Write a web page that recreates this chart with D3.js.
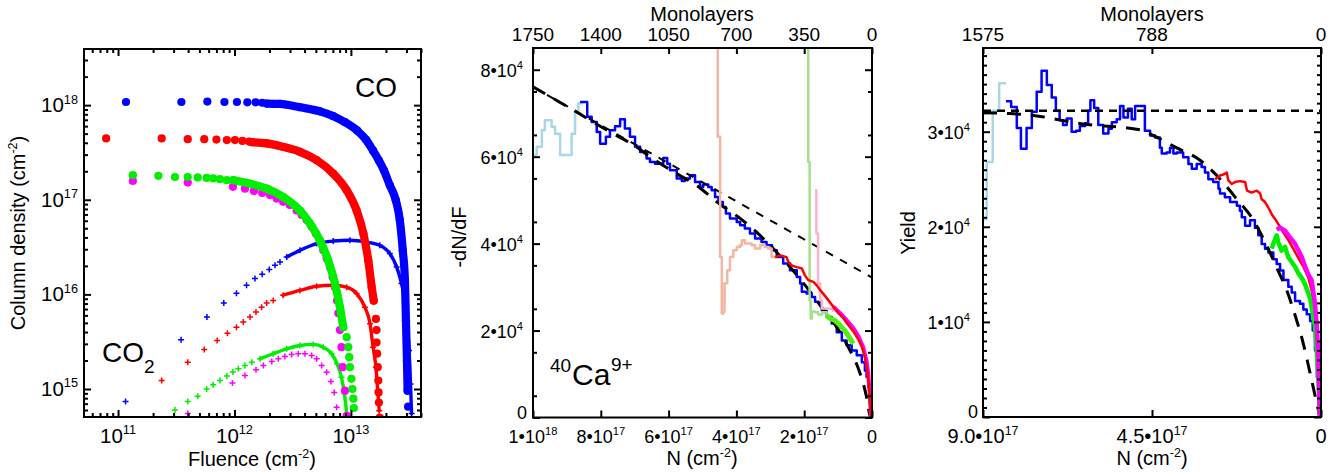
<!DOCTYPE html>
<html>
<head>
<meta charset="utf-8">
<title>CO / CO2 column density and sputtering yield</title>
<script src="https://cdn.jsdelivr.net/npm/d3@7"></script>
<style>
  body { margin: 0; background: #fff; }
  svg text { font-family: "Liberation Sans", Arial, Helvetica, sans-serif; fill: #000; }
</style>
</head>
<body>
<svg id="chart" width="1339" height="472"></svg>
<script>
// ---------------- data ----------------
// panel 1: [fluence cm^-2, column density cm^-2]
// "Dots" = separated samples, "Band" = densely packed samples (drawn as a thick trace)
var coBlueDots = [[1.17e11,1.08e18],[3.5e11,1.08e18],[5.85e11,1.09e18],[8.2e11,1.08e18],[1.05e12,1.08e18],
  [1.29e12,1.07e18],[1.52e12,1.07e18],[1.73e12,1.06e18],[3.10e13,6.5e14]]
var coBlueBand = [[1.89e12,1.04e18],[2.46e12,1.03e18],[3.65e12,9.5e17],[5.42e12,8.6e17],[7.0e12,7.7e17],
  [8.9e12,6.6e17],[1.13e13,5.4e17],[1.35e13,4.3e17],[1.55e13,3.3e17],[1.74e13,2.6e17],[1.92e13,2.05e17],
  [2.16e13,1.42e17],[2.43e13,9.9e16],[2.63e13,6.1e16],[2.79e13,2.9e16],[2.91e13,1.41e16],[2.97e13,5.3e15],
  [3.03e13,2.0e15],[3.07e13,9.6e14]]
var coRedDots = [[7.9e10,4.45e17],[2.37e11,4.45e17],[3.97e11,4.37e17],[5.5e11,4.37e17],[7.0e11,4.33e17],
  [8.6e11,4.27e17],[1.01e12,4.27e17],[1.17e12,4.19e17],[1.34e12,4.12e17],
  [1.64e13,5.5e15],[1.66e13,4.2e15],[1.66e13,3.1e15],[1.68e13,2.36e15],[1.70e13,1.70e15],[1.72e13,1.23e15],
  [1.73e13,9.2e14],[1.74e13,7.2e14],[1.77e13,5.0e14]]
var coRedBand = [[1.41e12,4.06e17],[1.89e12,3.94e17],[2.62e12,3.62e17],[3.65e12,3.21e17],[5.08e12,2.62e17],
  [7.05e12,1.89e17],[9.2e12,1.26e17],[1.12e13,7.7e16],[1.28e13,4.4e16],[1.41e13,2.29e16],[1.51e13,1.19e16],
  [1.57e13,8.6e15]]
var coGreenDots = [[1.34e11,1.82e17],[2.22e11,1.79e17],[3.08e11,1.74e17],[3.97e11,1.74e17],[4.83e11,1.72e17],
  [5.77e11,1.70e17],[6.57e11,1.68e17],[7.5e11,1.65e17],[8.6e11,1.61e17],
  [9.2e12,3.53e15],[9.5e12,2.77e15],[9.67e12,2.17e15],[9.8e12,1.70e15],[1.01e13,1.28e15],[1.03e13,1.0e15],
  [1.05e13,7.9e14],[1.06e13,6.3e14]]
var coGreenBand = [[9.8e11,1.61e17],[1.36e12,1.48e17],[1.89e12,1.31e17],[2.62e12,1.07e17],[3.65e12,7.7e16],
  [4.45e12,5.6e16],[5.42e12,3.7e16],[6.38e12,2.29e16],[7.3e12,1.30e16],[8.05e12,7.3e15],[8.6e12,4.5e15]]
var coMagentaDots = [[1.34e11,1.58e17],[3.97e11,1.52e17],[9.7e11,1.37e17],[1.23e12,1.31e17],[1.47e12,1.24e17],
  [1.73e12,1.18e17],[2.02e12,1.12e17],[2.30e12,1.03e17],[2.62e12,9.5e16],[2.99e12,8.8e16],[3.42e12,7.7e16],
  [3.78e12,6.9e16],[4.17e12,6.1e16],[4.6e12,5.2e16],[5.0e12,4.4e16],[5.42e12,3.66e16],[5.79e12,2.92e16],
  [6.19e12,2.39e16],[6.6e12,1.95e16],[6.97e12,1.52e16],[7.3e12,1.19e16],[7.6e12,8.6e15],[7.8e12,6.3e15],
  [8.05e12,4.2e15],[8.3e12,2.77e15],[8.5e12,1.70e15],[8.9e12,9.6e14],[9.2e12,5.2e14]]

var co2BlueDots = [[1.16e11,7.4e14],[3.48e11,3.32e15],[5.8e11,5.75e15],[8.1e11,8.1e15],[1.04e12,1.03e16],
  [1.27e12,1.25e16],[1.50e12,1.47e16],[1.73e12,1.63e16],[1.99e12,1.83e16],[2.23e12,2.03e16],[2.46e12,2.20e16]]
var co2BlueBand = [[2.81e12,2.48e16],[3.65e12,2.92e16],[5.08e12,3.44e16],[7.05e12,3.66e16],[9.8e12,3.73e16],
  [1.36e13,3.57e16],[1.77e13,3.30e16],[2.16e13,2.70e16],[2.47e13,1.95e16],[2.72e13,1.30e16],[2.91e13,8.6e15],
  [3.04e13,5.3e15],[3.16e13,2.56e15],[3.25e13,1.13e15],[3.32e13,5.5e14]]
var co2RedDots = [[2.37e11,1.23e15],[3.97e11,1.92e15],[5.5e11,2.62e15],[7.1e11,3.26e15],[8.7e11,3.89e15],
  [1.04e12,4.5e15],[1.19e12,5.1e15],[1.36e12,5.75e15],[1.53e12,6.5e15],[1.71e12,7.3e15],[1.89e12,8.1e15],
  [2.15e12,8.6e15]]
var co2RedBand = [[2.62e12,9.8e15],[3.65e12,1.10e16],[5.08e12,1.22e16],[7.05e12,1.25e16],[9.2e12,1.19e16],
  [1.12e13,1.02e16],[1.32e13,7.3e15],[1.46e13,4.9e15],[1.55e13,2.77e15],[1.64e13,1.70e15],[1.70e13,9.6e14],
  [1.75e13,5.9e14]]
var co2GreenDots = [[3.08e11,6.0e14],[3.97e11,7.4e14],[4.83e11,8.4e14],[5.77e11,1.0e15],[6.57e11,1.11e15],
  [7.5e11,1.23e15],[8.6e11,1.37e15],[9.7e11,1.51e15],[1.08e12,1.64e15],[1.23e12,1.77e15],[1.41e12,1.92e15]]
var co2GreenBand = [[1.66e12,2.09e15],[2.15e12,2.36e15],[2.81e12,2.66e15],[3.65e12,2.88e15],[4.75e12,2.96e15],
  [5.79e12,2.77e15],[6.83e12,2.36e15],[7.6e12,1.85e15],[8.3e12,1.33e15],[8.8e12,8.9e14],[9.2e12,5.5e14]]
var co2MagentaDots = [[3.97e11,5.5e14],[9.6e11,1.16e15],[1.23e12,1.39e15],[1.53e12,1.60e15],[1.77e12,1.77e15],
  [2.09e12,1.95e15],[2.38e12,2.09e15],[2.71e12,2.21e15],[3.10e12,2.32e15],[3.53e12,2.36e15],[4.03e12,2.36e15],
  [4.6e12,2.26e15],[5.08e12,2.09e15],[5.61e12,1.77e15],[6.19e12,1.50e15],[6.73e12,1.20e15],[7.19e12,9.2e14],
  [7.54e12,6.4e14]]

// panels 2 and 3: [N in 1e17 cm^-2, value in 1e4]
var N_UNIT = 1e17, Y_UNIT = 1e4

var dndfLightBlue = [[10.0,6.04],[9.89,6.23],[9.74,6.61],[9.65,6.84],[9.45,6.69],[9.35,6.53],[9.20,6.04],
  [8.86,6.53],[8.76,7.03],[8.66,7.23],[8.53,7.23]]
var dndfBlue = [[8.61,7.26],[8.40,6.92],[8.27,6.80],[8.12,6.57],[8.02,6.30],[7.85,6.46],[7.73,6.61],[7.58,6.70],
  [7.43,6.86],[7.29,6.65],[7.14,6.46],[6.99,6.23],[6.84,6.11],[6.65,5.96],[6.55,5.88],[6.40,5.84],[6.16,5.97],
  [6.04,5.84],[5.96,5.69],[5.76,5.50],[5.61,5.44],[5.52,5.50],[5.37,5.57],[5.22,5.42],[5.07,5.30],[4.98,5.36],
  [4.83,5.30],[4.73,5.23],[4.63,5.07],[4.53,4.96],[4.40,4.84],[4.31,4.69],[4.19,4.58],[3.99,4.50],[3.89,4.42],
  [3.75,4.35],[3.60,4.23],[3.45,4.12],[3.26,4.04],[3.11,3.96],[2.95,3.85],[2.81,3.69],[2.62,3.54],[2.42,3.39],
  [2.22,3.23],[2.12,3.08],[2.07,2.89],[1.93,2.85],[1.78,2.77],[1.68,2.66],[1.48,2.46],[1.34,2.31],[1.19,2.16],
  [1.04,1.96],[0.89,1.77],[0.75,1.66],[0.60,1.54],[0.45,1.43],[0.30,1.27],[0.21,1.08],[0.16,0.93],[0.11,0.70],
  [0.06,0.32],[0.03,0.02],[0,0]]
var dndfSalmon = [[4.59,9.5],[4.55,6.46],[4.48,3.69],[4.43,2.39],[4.39,2.43],[4.35,3.09],[4.27,3.39],[4.19,3.69],
  [4.09,3.85],[3.99,3.92],[3.89,3.96],[3.84,4.08],[3.75,4.00],[3.55,3.96],[3.45,3.89],[3.30,3.96],[3.16,3.92],
  [3.06,3.89],[2.96,3.69],[2.86,3.66]]
var dndfLightGreen = [[1.93,9.5],[1.88,5.88],[1.84,2.70],[1.81,2.28],[1.77,2.44],[1.68,2.42],[1.59,2.37],
  [1.47,2.42],[1.34,2.31]]
var dndfPink = [[1.68,5.23],[1.64,4.23],[1.59,3.08],[1.53,2.70],[1.48,2.51],[1.34,2.50],[1.14,2.43]]
var dndfGreen = [[1.34,2.35],[1.24,2.28],[1.09,2.23],[0.94,2.12],[0.80,2.00],[0.65,1.82],[0.55,1.70]]
var dndfMagenta = [[1.14,2.55],[0.94,2.40],[0.75,2.24],[0.55,2.06],[0.40,1.87],[0.26,1.62],[0.16,1.30],
  [0.11,1.00],[0.06,0.50],[0.03,0]]
var dndfRed = [[2.86,3.69],[2.71,3.73],[2.52,3.69],[2.47,3.58],[2.37,3.50],[2.22,3.46],[2.07,3.43],[1.98,3.27],
  [1.88,3.16],[1.73,3.12],[1.63,3.04],[1.53,2.93],[1.44,2.85],[1.29,2.70],[1.14,2.55],[0.99,2.40],[0.85,2.29],
  [0.70,2.13],[0.55,1.98],[0.40,1.79],[0.30,1.63],[0.21,1.40],[0.14,1.09],[0.09,0.70],[0.06,0.31],[0.03,0]]
var dndfFit = [[10.0,7.61],[8.81,7.07],[7.73,6.57],[7.04,6.27],[6.40,5.92],[5.76,5.61],[5.12,5.31],[4.58,4.96],
  [3.89,4.58],[3.25,4.15],[2.42,3.46],[1.93,3.00],[1.53,2.58],[1.04,2.08],[0.70,1.62],[0.35,1.01],[0.16,0.47],
  [0.06,0.05],[0,0]]
var dndfLinear = [[10.0,7.60],[0,3.22]]

var yieldLightBlue = [[8.99,2.08],[8.90,2.68],[8.74,3.22],[8.57,3.51],[8.39,3.51]]
var yieldBlue = [[8.39,3.32],[8.25,3.26],[8.10,3.04],[7.99,2.82],[7.84,3.04],[7.70,3.21],[7.57,3.42],[7.44,3.64],
  [7.30,3.49],[7.17,3.36],[7.06,3.22],[6.96,3.12],[6.87,3.07],[6.77,3.14],[6.64,3.00],[6.52,3.01],[6.42,3.06],
  [6.28,3.09],[6.20,3.22],[6.14,3.33],[6.04,3.25],[5.93,3.07],[5.80,2.98],[5.66,3.03],[5.57,3.10],[5.44,3.13],
  [5.35,3.27],[5.26,3.15],[5.14,3.24],[5.04,3.13],[4.95,3.27],[4.69,3.01],[4.55,2.96],[4.42,2.94],[4.29,2.83],
  [4.24,2.77],[4.11,2.78],[4.02,2.83],[3.93,2.77],[3.84,2.78],[3.67,2.73],[3.53,2.66],[3.44,2.61],[3.31,2.66],
  [3.18,2.63],[3.09,2.57],[3.00,2.50],[2.87,2.47],[2.73,2.40],[2.69,2.35],[2.56,2.31],[2.42,2.26],[2.24,2.22],
  [2.16,2.17],[2.11,2.10],[2.02,2.01],[1.89,2.07],[1.76,1.99],[1.67,1.91],[1.58,1.82],[1.49,1.77],[1.40,1.73],
  [1.27,1.66],[1.18,1.61],[1.09,1.54],[1.00,1.44],[0.87,1.37],[0.78,1.31],[0.69,1.22],[0.56,1.19],[0.47,1.13],
  [0.38,1.08],[0.29,1.01],[0.22,0.91],[0.16,0.70],[0.11,0.42],[0.07,0.07],[0.03,0],[0,0]]
var yieldRed = [[2.82,2.50],[2.69,2.54],[2.60,2.55],[2.51,2.57],[2.47,2.49],[2.38,2.45],[2.29,2.47],[2.16,2.48],
  [2.02,2.47],[1.97,2.38],[1.85,2.36],[1.71,2.38],[1.62,2.35],[1.58,2.29],[1.49,2.26],[1.40,2.20],[1.31,2.13],
  [1.22,2.08],[1.14,2.03],[1.00,1.94],[0.87,1.86],[0.74,1.77],[0.60,1.67],[0.47,1.58],[0.34,1.47],[0.25,1.33],
  [0.16,1.12],[0.10,0.77],[0.05,0.25],[0.03,0]]
var yieldGreen = [[1.31,1.77],[1.27,1.82],[1.18,1.91],[1.14,1.84],[1.05,1.75],[0.96,1.79],[0.87,1.68],[0.78,1.63],
  [0.69,1.58],[0.60,1.51],[0.51,1.46],[0.43,1.40],[0.29,1.25],[0.16,0.95],[0.08,0.5],[0.03,0]]
var yieldMagenta = [[1.18,1.97],[1.09,1.99],[0.96,1.96],[0.83,1.89],[0.69,1.82],[0.60,1.75],[0.51,1.68],
  [0.43,1.59],[0.34,1.50],[0.25,1.44],[0.21,1.33],[0.16,1.19],[0.11,0.95],[0.07,0.60],[0.03,0]]
var yieldFit = [[9.0,3.20],[8.28,3.19],[7.66,3.17],[6.33,3.08],[4.82,3.02],[4.42,2.95],[3.84,2.83],[3.22,2.70],
  [2.73,2.52],[2.24,2.29],[1.80,2.07],[1.49,1.84],[1.18,1.57],[0.91,1.33],[0.69,1.07],[0.47,0.77],[0.29,0.46],
  [0.11,0.14],[0.03,0]]
var yieldFlat = [[9.0,3.22],[0,3.22]]

// ticks and tick labels
var fluenceMajor = [1e11, 1e12, 1e13], fluenceExp = ["11","12","13"]
var densityMajor = [1e15, 1e16, 1e17, 1e18], densityExp = ["15","16","17","18"]
var nTicks2 = [1e18, 8e17, 6e17, 4e17, 2e17, 0]
var nLabels2 = [["1•10","18"],["8•10","17"],["6•10","17"],["4•10","17"],["2•10","17"],["0",""]]
var mlTicks2 = [1750, 1400, 1050, 700, 350, 0]
var dndfTicks = [0, 2e4, 4e4, 6e4, 8e4]
var dndfLabels = [["0",""],["2•10","4"],["4•10","4"],["6•10","4"],["8•10","4"]]
var nTicks3 = [9e17, 4.5e17, 0]
var nLabels3 = [["9.0•10","17"],["4.5•10","17"],["0",""]]
var mlTicks3 = [1575, 788, 0]
var yieldTicks = [0, 1e4, 2e4, 3e4]
var yieldLabels = [["0",""],["1•10","4"],["2•10","4"],["3•10","4"]]

// ---------------- drawing ----------------
var svg = d3.select('#chart')
var P1 = {l:84, r:421, t:49, b:417}
var P2 = {l:533, r:872, t:48, b:417.5}
var P3 = {l:983, r:1321, t:48, b:417}

var x1 = d3.scaleLog().domain([5.1e10, 4.0e13]).range([P1.l, P1.r])
var y1 = d3.scaleLog().domain([5.06e14, 3.92e18]).range([P1.b, P1.t])
var x2 = d3.scaleLinear().domain([1e18, 0]).range([P2.l, P2.r])
var x2top = d3.scaleLinear().domain([1750, 0]).range([P2.l, P2.r])
var y2 = d3.scaleLinear().domain([0, 8.5e4]).range([P2.b, P2.t])
var x3 = d3.scaleLinear().domain([9e17, 0]).range([P3.l, P3.r])
var x3top = d3.scaleLinear().domain([1575, 0]).range([P3.l, P3.r])
var y3 = d3.scaleLinear().domain([0, 3.88e4]).range([P3.b, P3.t])

function clipFor(id, P) {
  svg.append('clipPath').attr('id', id).append('rect')
    .attr('x', P.l).attr('y', P.t).attr('width', P.r - P.l).attr('height', P.b - P.t)
  return svg.append('g').attr('clip-path', 'url(#' + id + ')')
}

function tickSet(axisFn, scale, values, size, tr) {
  svg.append('g').attr('transform', tr)
    .call(axisFn(scale).tickValues(values).tickSizeInner(-size).tickSizeOuter(0).tickFormat(''))
    .call(function (g) { g.select('.domain').remove() })
    .selectAll('line').attr('stroke', '#000').attr('stroke-width', 2)
}

function frame(P) {
  svg.append('rect').attr('x', P.l).attr('y', P.t).attr('width', P.r - P.l).attr('height', P.b - P.t)
    .attr('fill', 'none').attr('stroke', '#000').attr('stroke-width', 2)
}

// mantissa + superscript exponent
function sci(sel, mant, exp, size) {
  sel.append('tspan').text(mant)
  if (exp) sel.append('tspan').attr('font-size', size * 0.62).attr('dy', -size * 0.42).text(exp)
}

function rotTitle(x, y, parts) {
  var t = svg.append('text').attr('transform', 'translate(' + x + ',' + y + ') rotate(-90)')
    .attr('text-anchor', 'middle').attr('font-size', 20)
  t.append('tspan').text(parts[0])
  if (parts[1]) {
    t.append('tspan').attr('font-size', 12.5).attr('dy', -8).text(parts[1])
    t.append('tspan').attr('dy', 8).text(parts[2])
  }
}
function title(x, y, parts) {
  var t = svg.append('text').attr('x', x).attr('y', y).attr('text-anchor', 'middle').attr('font-size', 20)
  t.append('tspan').text(parts[0])
  if (parts[1]) {
    t.append('tspan').attr('font-size', 12.5).attr('dy', -8).text(parts[1])
    t.append('tspan').attr('dy', 8).text(parts[2])
  }
}

// ---- panel 1 ----
var g1 = clipFor('clip1', P1)
var band1 = d3.line().x(function (d) { return x1(d[0]) }).y(function (d) { return y1(d[1]) })
  .curve(d3.curveMonotoneX)

var p1Series = [
  {kind: 'cross', color: '#0000ff', dots: co2BlueDots, band: co2BlueBand},
  {kind: 'cross', color: '#ff0000', dots: co2RedDots, band: co2RedBand},
  {kind: 'cross', color: '#ff00ff', dots: co2MagentaDots, band: null},
  {kind: 'cross', color: '#00ee00', dots: co2GreenDots, band: co2GreenBand},
  {kind: 'dot', color: '#0000ff', dots: coBlueDots, band: coBlueBand},
  {kind: 'dot', color: '#ff0000', dots: coRedDots, band: coRedBand},
  {kind: 'dot', color: '#ff00ff', dots: coMagentaDots, band: null},
  {kind: 'dot', color: '#00ee00', dots: coGreenDots, band: coGreenBand}
]

p1Series.forEach(function (s) {
  var gs = g1.append('g')
  if (s.band) {
    gs.append('path').datum(s.band).attr('d', band1).attr('fill', 'none').attr('stroke', s.color)
      .attr('stroke-width', s.kind === 'dot' ? 8.2 : 3.4)
      .attr('stroke-linecap', 'round').attr('stroke-linejoin', 'round')
  }
  var pts = s.band ? s.dots.concat(s.band) : s.dots
  if (s.kind === 'dot') {
    gs.selectAll('circle').data(pts).join('circle')
      .attr('cx', function (d) { return x1(d[0]) }).attr('cy', function (d) { return y1(d[1]) })
      .attr('r', 4.1).attr('fill', s.color)
  } else {
    gs.selectAll('path.m').data(pts).join('path').attr('class', 'm')
      .attr('transform', function (d) { return 'translate(' + x1(d[0]) + ',' + y1(d[1]) + ')' })
      .attr('d', 'M-3,0H3M0,-3V3').attr('stroke', s.color).attr('stroke-width', 1.5)
  }
})

var fMinor = x1.ticks().filter(function (v) { return fluenceMajor.indexOf(v) < 0 })
var dMinor = y1.ticks().filter(function (v) { return densityMajor.indexOf(v) < 0 })
tickSet(d3.axisBottom, x1, fluenceMajor, 7, 'translate(0,' + P1.b + ')')
tickSet(d3.axisBottom, x1, fMinor, 4, 'translate(0,' + P1.b + ')')
tickSet(d3.axisTop, x1, fluenceMajor, 7, 'translate(0,' + P1.t + ')')
tickSet(d3.axisTop, x1, fMinor, 4, 'translate(0,' + P1.t + ')')
tickSet(d3.axisLeft, y1, densityMajor, 7, 'translate(' + P1.l + ',0)')
tickSet(d3.axisLeft, y1, dMinor, 4, 'translate(' + P1.l + ',0)')
tickSet(d3.axisRight, y1, densityMajor, 7, 'translate(' + P1.r + ',0)')
tickSet(d3.axisRight, y1, dMinor, 4, 'translate(' + P1.r + ',0)')
frame(P1)

svg.append('g').selectAll('text').data(fluenceMajor).join('text')
  .attr('x', function (d) { return x1(d) }).attr('y', 443).attr('text-anchor', 'middle').attr('font-size', 20.5)
  .each(function (d, i) { sci(d3.select(this), '10', fluenceExp[i], 20.5) })
svg.append('g').selectAll('text').data(densityMajor).join('text')
  .attr('x', 78).attr('y', function (d) { return y1(d) + 7 }).attr('text-anchor', 'end').attr('font-size', 20.5)
  .each(function (d, i) { sci(d3.select(this), '10', densityExp[i], 20.5) })

title(252, 466, ['Fluence (cm', '-2', ')'])
rotTitle(25, 233, ['Column density (cm', '-2', ')'])
svg.append('text').attr('x', 355).attr('y', 97).attr('font-size', 28).text('CO')
var co2t = svg.append('text').attr('x', 102).attr('y', 362).attr('font-size', 28)
co2t.append('tspan').text('CO')
co2t.append('tspan').attr('font-size', 19).attr('dy', 11).text('2')

// ---- panel 2 ----
var g2 = clipFor('clip2', P2)
function lineFor(xs, ys, curve) {
  return d3.line().x(function (d) { return xs(d[0] * N_UNIT) }).y(function (d) { return ys(d[1] * Y_UNIT) }).curve(curve)
}
var step2 = lineFor(x2, y2, d3.curveStepAfter)
var lin2 = lineFor(x2, y2, d3.curveLinear)
var smooth2 = lineFor(x2, y2, d3.curveMonotoneX)

function trace(g, data, gen, color, w, dash) {
  g.append('path').datum(data).attr('d', gen).attr('fill', 'none').attr('stroke', color)
    .attr('stroke-width', w).attr('stroke-linejoin', 'round').attr('stroke-dasharray', dash || null)
}

trace(g2, dndfLightBlue, step2, '#a8d8e6', 2.5)
trace(g2, dndfBlue, step2, '#0000ff', 2.5)
trace(g2, dndfLinear, lin2, '#000', 2, '8,8')
trace(g2, dndfFit, smooth2, '#000', 3, '14,10')
trace(g2, dndfSalmon, step2, '#f6b4a2', 2.5)
trace(g2, dndfLightGreen, step2, '#a6e08c', 2.5)
trace(g2, dndfPink, step2, '#ffb2d0', 2.5)
trace(g2, dndfGreen, lin2, '#55ee11', 5)
trace(g2, dndfMagenta, lin2, '#ff00ff', 4)
trace(g2, dndfRed, lin2, '#ff0000', 2.5)

tickSet(d3.axisBottom, x2, nTicks2, 7, 'translate(0,' + P2.b + ')')
tickSet(d3.axisTop, x2top, mlTicks2, 6, 'translate(0,' + P2.t + ')')
var y2Minor = d3.range(5e3, 8.5e4, 1e4)
tickSet(d3.axisLeft, y2, dndfTicks, 7, 'translate(' + P2.l + ',0)')
tickSet(d3.axisLeft, y2, y2Minor, 4, 'translate(' + P2.l + ',0)')
tickSet(d3.axisRight, y2, dndfTicks, 7, 'translate(' + P2.r + ',0)')
tickSet(d3.axisRight, y2, y2Minor, 4, 'translate(' + P2.r + ',0)')
frame(P2)

svg.append('g').selectAll('text').data(nTicks2).join('text')
  .attr('x', function (d) { return x2(d) }).attr('y', 443).attr('text-anchor', 'middle').attr('font-size', 18)
  .each(function (d, i) { sci(d3.select(this), nLabels2[i][0], nLabels2[i][1], 18) })
svg.append('g').selectAll('text').data(mlTicks2).join('text')
  .attr('x', function (d) { return x2top(d) }).attr('y', 41).attr('text-anchor', 'middle').attr('font-size', 19)
  .text(function (d) { return d })
svg.append('g').selectAll('text').data(dndfTicks).join('text')
  .attr('x', function (d, i) { return dndfLabels[i][1] ? 523 : 527 })
  .attr('y', function (d) { return Math.min(y2(d) + 7, P2.b + 1) })
  .attr('text-anchor', 'end').attr('font-size', 18)
  .each(function (d, i) { sci(d3.select(this), dndfLabels[i][0], dndfLabels[i][1], 18) })

title(702, 21, ['Monolayers'])
title(702, 465, ['N (cm', '-2', ')'])
rotTitle(466, 237, ['-dN/dF'])
svg.append('text').attr('x', 550).attr('y', 372).attr('font-size', 19).text('40')
svg.append('text').attr('x', 572).attr('y', 385).attr('font-size', 30).text('Ca')
svg.append('text').attr('x', 611).attr('y', 371).attr('font-size', 19).text('9+')

// ---- panel 3 ----
var g3 = clipFor('clip3', P3)
var step3 = lineFor(x3, y3, d3.curveStepAfter)
var lin3 = lineFor(x3, y3, d3.curveLinear)
var smooth3 = lineFor(x3, y3, d3.curveMonotoneX)

trace(g3, yieldLightBlue, step3, '#a8d8e6', 2.5)
trace(g3, yieldBlue, step3, '#0000ff', 2.5)
trace(g3, yieldFlat, lin3, '#000', 2.5, '8,6')
trace(g3, yieldFit, smooth3, '#000', 3, '14,10')
trace(g3, yieldRed, lin3, '#ff0000', 2.5)
trace(g3, yieldGreen, lin3, '#00ee00', 4.5)
trace(g3, yieldMagenta, lin3, '#ff00ff', 4.5)

tickSet(d3.axisBottom, x3, nTicks3, 7, 'translate(0,' + P3.b + ')')
tickSet(d3.axisTop, x3top, mlTicks3, 6, 'translate(0,' + P3.t + ')')
var y3Minor = d3.range(1e3, 3.88e4, 1e3).filter(function (v) { return v % 1e4 !== 0 })
tickSet(d3.axisLeft, y3, yieldTicks, 7, 'translate(' + P3.l + ',0)')
tickSet(d3.axisLeft, y3, y3Minor, 4, 'translate(' + P3.l + ',0)')
tickSet(d3.axisRight, y3, yieldTicks, 7, 'translate(' + P3.r + ',0)')
tickSet(d3.axisRight, y3, y3Minor, 4, 'translate(' + P3.r + ',0)')
frame(P3)

svg.append('g').selectAll('text').data(nTicks3).join('text')
  .attr('x', function (d) { return x3(d) }).attr('y', 443).attr('text-anchor', 'middle').attr('font-size', 20)
  .each(function (d, i) { sci(d3.select(this), nLabels3[i][0], nLabels3[i][1], 20) })
svg.append('g').selectAll('text').data(mlTicks3).join('text')
  .attr('x', function (d) { return x3top(d) }).attr('y', 41).attr('text-anchor', 'middle').attr('font-size', 19)
  .text(function (d) { return d })
svg.append('g').selectAll('text').data(yieldTicks).join('text')
  .attr('x', function (d, i) { return yieldLabels[i][1] ? 970 : 978 })
  .attr('y', function (d) { return Math.min(y3(d) + 7, P3.b + 1) })
  .attr('text-anchor', 'end').attr('font-size', 18)
  .each(function (d, i) { sci(d3.select(this), yieldLabels[i][0], yieldLabels[i][1], 18) })

title(1152, 21, ['Monolayers'])
title(1152, 465, ['N (cm', '-2', ')'])
rotTitle(915, 233, ['Yield'])
</script>
</body>
</html>
